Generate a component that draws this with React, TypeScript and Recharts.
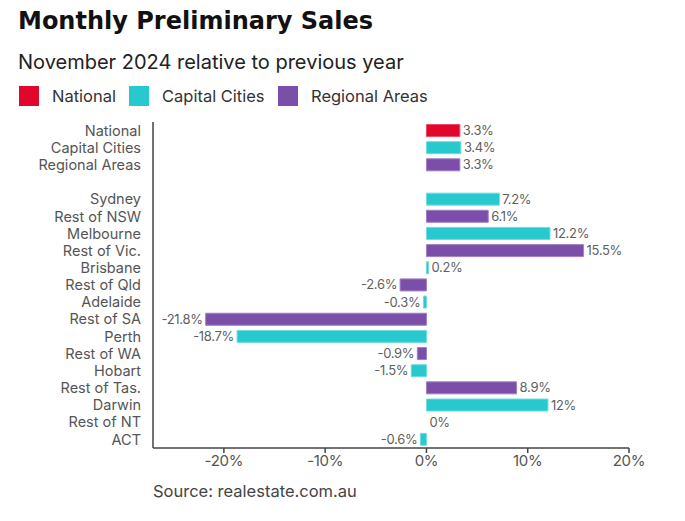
import { BarChart, Bar, XAxis, YAxis, Cell, LabelList } from 'recharts'

const regions = [
  'National',
  'Capital Cities',
  'Regional Areas',
  '',
  'Sydney',
  'Rest of NSW',
  'Melbourne',
  'Rest of Vic.',
  'Brisbane',
  'Rest of Qld',
  'Adelaide',
  'Rest of SA',
  'Perth',
  'Rest of WA',
  'Hobart',
  'Rest of Tas.',
  'Darwin',
  'Rest of NT',
  'ACT',
]
const changes: (number | null)[] = [
  3.3, 3.4, 3.3, null, 7.2, 6.1, 12.2, 15.5, 0.2, -2.6, -0.3, -21.8, -18.7, -0.9, -1.5, 8.9, 12, 0, -0.6,
]
const groups = [
  'national', 'capital', 'regional', 'none',
  'capital', 'regional', 'capital', 'regional', 'capital', 'regional', 'capital', 'regional',
  'capital', 'regional', 'capital', 'regional', 'capital', 'regional', 'capital',
]
const xTicks = [-20, -10, 0, 10, 20]

const COLORS: Record<string, string> = {
  national: '#e3062c',
  capital: '#27c9cf',
  regional: '#7b4ea9',
  none: 'transparent',
}
const STROKES: Record<string, string> = {
  national: '#f04a66',
  capital: '#6fdde1',
  regional: '#a07ec4',
  none: 'transparent',
}

const legendItems = [
  { label: 'National', key: 'national', x: 19 },
  { label: 'Capital Cities', key: 'capital', x: 129 },
  { label: 'Regional Areas', key: 'regional', x: 278 },
]

const data = regions.map((name, i) => ({ name, value: changes[i], group: groups[i] }))

const FONT = 'Inter, "Noto Sans", sans-serif'

function ValueLabel(props: any) {
  const { x, y, width, height, value } = props
  if (value === null || value === undefined) return null
  const cy = y + height / 2
  const neg = value < 0
  const left = Math.min(x, x + width)
  const right = Math.max(x, x + width)
  // zero bar is drawn 1px wide (transparent), label sits just right of the axis
  const tx = neg ? left - 3 : value === 0 ? left + 3 : right + 3
  return (
    <text
      x={tx}
      y={cy}
      dy={4.5}
      textAnchor={neg ? 'end' : 'start'}
      fill="#5f5f5f"
      fontSize={13}
      fontFamily={FONT}
      letterSpacing={-0.3}
    >
      {`${value}%`}
    </text>
  )
}

export default function App() {
  return (
    <div
      style={{
        position: 'absolute',
        top: 0,
        left: 0,
        width: 685,
        height: 521,
        background: '#fff',
        fontFamily: FONT,
        overflow: 'hidden',
      }}
    >
      <div
        style={{
          position: 'absolute',
          left: 18,
          top: 7,
          fontSize: 24,
          fontWeight: 700,
          fontFamily: '"DejaVu Sans", "Open Sans", sans-serif',
          color: '#111',
          whiteSpace: 'nowrap',
        }}
      >
        Monthly Preliminary Sales
      </div>
      <div
        style={{
          position: 'absolute',
          left: 18,
          top: 50,
          fontSize: 20,
          color: '#222',
          whiteSpace: 'nowrap',
        }}
      >
        November 2024 relative to previous year
      </div>
      {legendItems.map((it) => (
        <div
          key={it.key}
          style={{ position: 'absolute', left: it.x, top: 86, display: 'flex', alignItems: 'center', height: 20 }}
        >
          <span style={{ width: 20, height: 20, background: COLORS[it.key], display: 'inline-block' }} />
          <span style={{ marginLeft: 13, fontSize: 16.5, color: '#333', whiteSpace: 'nowrap' }}>{it.label}</span>
        </div>
      ))}

      <div style={{ position: 'absolute', left: 0, top: 0 }}>
        <BarChart
          width={685}
          height={521}
          data={data}
          layout="vertical"
          margin={{ top: 122, right: 56, bottom: 43, left: 0 }}
          barCategoryGap={2.5}
        >
          <XAxis
            type="number"
            domain={[-27, 20]}
            ticks={xTicks}
            allowDataOverflow
            tickFormatter={(v: number) => `${v}%`}
            axisLine={{ stroke: '#444', strokeWidth: 1.5 }}
            tickLine={{ stroke: '#444', strokeWidth: 1.5 }}
            tickSize={5}
            tick={{ fill: '#555', fontSize: 15, fontFamily: FONT, letterSpacing: -0.3 }}
            height={30}
          />
          <YAxis
            type="category"
            dataKey="name"
            width={153}
            axisLine={{ stroke: '#444', strokeWidth: 1.5 }}
            tickLine={false}
            tickMargin={6}
            interval={0}
            tick={{ fill: '#555', fontSize: 14.5, fontFamily: FONT }}
          />
          <Bar dataKey="value" isAnimationActive={false} strokeWidth={1} minPointSize={1}>
            {data.map((d, i) => (
              <Cell
                key={i}
                fill={d.value === 0 ? 'transparent' : COLORS[d.group]}
                stroke={d.value === 0 ? 'transparent' : STROKES[d.group]}
              />
            ))}
            <LabelList dataKey="value" content={<ValueLabel />} />
          </Bar>
        </BarChart>
      </div>

      <div
        style={{
          position: 'absolute',
          left: 153,
          top: 481,
          fontSize: 16.5,
          color: '#444',
          whiteSpace: 'nowrap',
        }}
      >
        Source: realestate.com.au
      </div>
    </div>
  )
}
